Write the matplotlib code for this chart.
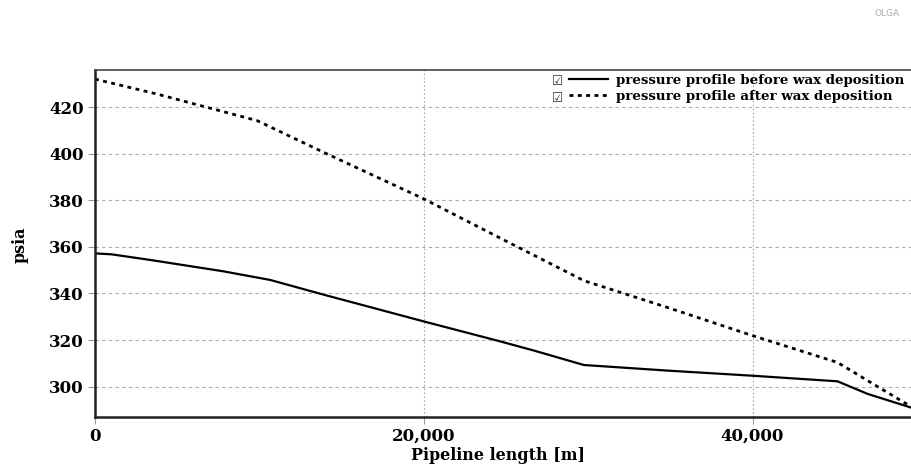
import matplotlib
matplotlib.use("Agg")
import matplotlib.pyplot as plt
from matplotlib.ticker import FuncFormatter

# Data
before_x = [0, 1000, 3350, 7815, 10660, 13900, 20000, 24670, 26700, 29740, 34820, 40000, 45170, 47000, 49700]
before_y = [357.2, 356.8, 354.4, 349.5, 345.8, 339.5, 328.0, 319.4, 315.5, 309.3, 306.9, 304.7, 302.3, 296.9, 290.9]
after_x = [0, 3760, 6800, 9850, 13900, 20000, 25000, 29740, 34820, 40000, 45170, 47000, 49700]
after_y = [432.0, 425.6, 419.9, 414.2, 400.6, 380.6, 362.5, 345.5, 334.0, 321.9, 310.4, 302.6, 291.2]
labels = ["pressure profile before wax deposition", "pressure profile after wax deposition"]
x_ticks = [0, 20000, 40000]
y_ticks = [300, 320, 340, 360, 380, 400, 420]

serif = ["DejaVu Serif"]

fig = plt.figure(figsize=(9.11, 4.65), dpi=100)
ax = fig.add_axes([95 / 911, 1 - 416.5 / 465, 1 - 95 / 911 + 0.002, (416.5 - 70) / 465])

l1, = ax.plot(before_x, before_y, color="black", lw=1.6, solid_joinstyle="round")
l2, = ax.plot(after_x, after_y, color="black", lw=2.0, linestyle=(0, (1.4, 1.6)))

ax.set_xlim(0, 49750)
ax.set_ylim(287.2, 435.9)
ax.set_xticks(x_ticks)
ax.set_yticks(y_ticks)
ax.xaxis.set_major_formatter(FuncFormatter(lambda v, p: f"{int(v):,}"))

ax.grid(True, axis="y", color="#aaaaaa", linestyle=(0, (3, 3)), lw=0.8)
ax.grid(True, axis="x", color="#aaaaaa", linestyle=(0, (1.5, 2)), lw=0.8)
ax.set_axisbelow(True)

for s in ["left", "bottom"]:
    ax.spines[s].set_linewidth(1.8)
    ax.spines[s].set_color("#222222")
ax.spines["top"].set_linewidth(1.2)
ax.spines["top"].set_color("#444444")
ax.spines["right"].set_visible(False)

ax.tick_params(axis="both", direction="out", length=5, width=0.8, color="#999999")
ax.tick_params(axis="y", pad=3)
ax.tick_params(axis="x", pad=3)
for lab in ax.get_xticklabels() + ax.get_yticklabels():
    lab.set_fontfamily(serif)
    lab.set_fontweight("bold")
    lab.set_fontsize(12)

fig.text(498 / 911, 1 - 455 / 465, "Pipeline length [m]", ha="center", va="center",
         fontfamily=serif, fontweight="bold", fontsize=11.5)
fig.text(20 / 911, 1 - 245 / 465, "psia", rotation=90, ha="center", va="center",
         fontfamily=serif, fontweight="bold", fontsize=11.5)

leg = ax.legend([l1, l2], labels, loc="upper left",
                bbox_to_anchor=(569 / 911, 1 - 74 / 465), bbox_transform=fig.transFigure,
                frameon=False, handlelength=2.9, handletextpad=0.6, borderpad=0,
                borderaxespad=0, labelspacing=0.2,
                prop={"family": serif, "weight": "bold", "size": 9.6})

for yy in (81, 98):
    fig.text(558 / 911, 1 - yy / 465, "\u2611", fontsize=9, color="#333333",
             ha="center", va="center", family="DejaVu Sans")

fig.text(900 / 911, 1 - 14 / 465, "OLGA", fontsize=6.5, color="#aaaaaa",
         ha="right", va="center", family="DejaVu Sans")

fig.savefig("out.png", dpi=100)
